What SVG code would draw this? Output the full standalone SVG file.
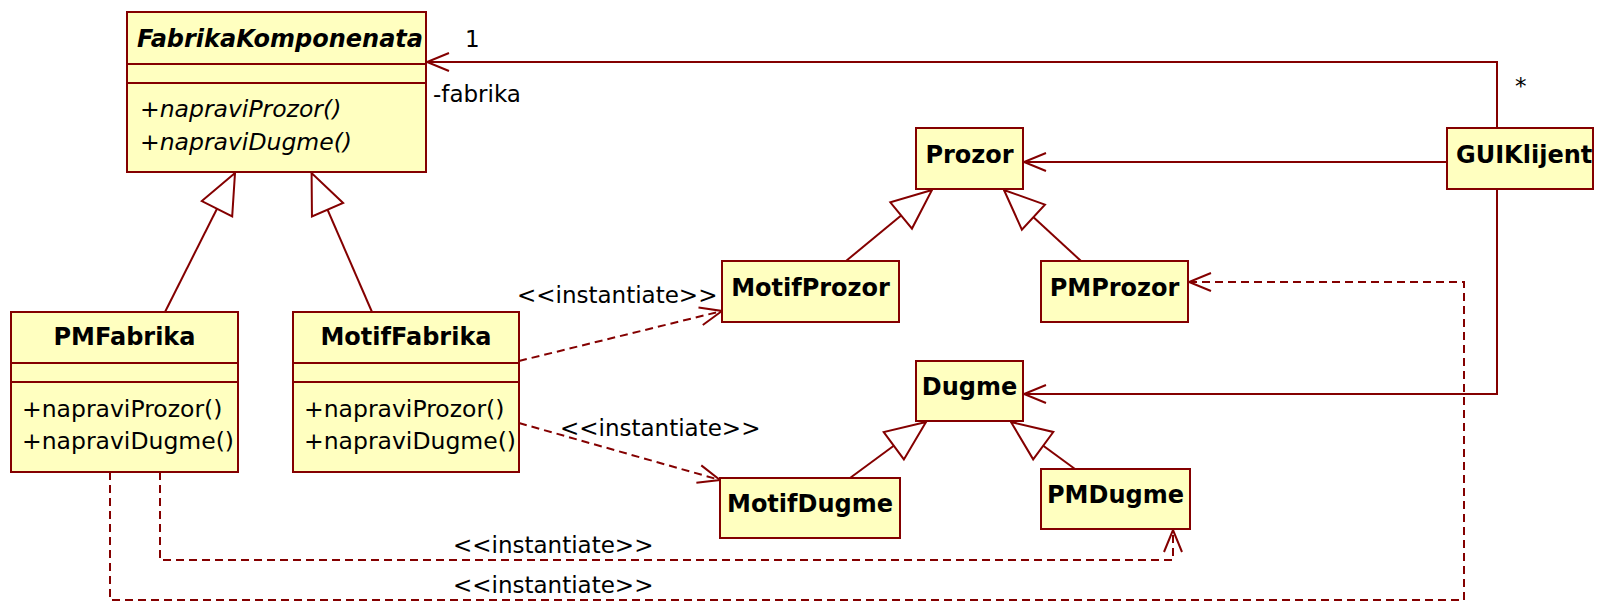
<svg xmlns="http://www.w3.org/2000/svg" width="1605" height="602" viewBox="0 0 1605 602">
<style>
.box{fill:#FFFFC0;stroke:#840000;stroke-width:2}
.sep{stroke:#840000;stroke-width:2}
.t{font-family:"DejaVu Sans",Verdana,sans-serif;font-size:23px;fill:#000}
.m{font-size:23.5px}
.b{font-weight:bold;font-size:24px}
.i{font-style:italic}
.c{text-anchor:middle}
.ln{fill:none;stroke:#840000;stroke-width:2}
.dash{stroke-dasharray:8,5}
</style>
<defs>
<marker id="open" viewBox="-25 -12 27 24" refX="0" refY="0" markerWidth="27" markerHeight="24" markerUnits="userSpaceOnUse" orient="auto">
<path d="M-22,-9 L0,0 L-22,9" fill="none" stroke="#840000" stroke-width="2"/>
</marker>
<marker id="gen" viewBox="-42 -19 44 38" refX="0" refY="0" markerWidth="44" markerHeight="38" markerUnits="userSpaceOnUse" orient="auto">
<path d="M0,0 L-40,-17 L-40,17 Z" fill="#fff" stroke="#840000" stroke-width="2"/>
</marker>
</defs>
<rect width="1605" height="602" fill="#fff"/>

<g id="connectors">
<path class="ln" d="M165,312 L235,173" marker-end="url(#gen)"/>
<path class="ln" d="M372,312 L311.6,173" marker-end="url(#gen)"/>
<path class="ln" d="M846,261 L932,190" marker-end="url(#gen)"/>
<path class="ln" d="M1081,261 L1004,190" marker-end="url(#gen)"/>
<path class="ln" d="M850,478 L926,422" marker-end="url(#gen)"/>
<path class="ln" d="M1075,469 L1011,422" marker-end="url(#gen)"/>
<path class="ln" d="M1497,128 V62 H427" marker-end="url(#open)"/>
<path class="ln" d="M1447,162 H1024" marker-end="url(#open)"/>
<path class="ln" d="M1497,189 V394 H1024" marker-end="url(#open)"/>
<path class="ln dash" d="M519,361 L722,311" marker-end="url(#open)"/>
<path class="ln dash" d="M519,423 L720,480" marker-end="url(#open)"/>
<path class="ln dash" d="M160,472 V560 H1173 V530" marker-end="url(#open)"/>
<path class="ln dash" d="M110,472 V600 H1464 V282 H1189" marker-end="url(#open)"/>
<text class="t" x="465" y="47">1</text>
<text class="t" x="433" y="102">-fabrika</text>
<text class="t" x="1515" y="94">*</text>
<text class="t" x="517" y="303">&lt;&lt;instantiate&gt;&gt;</text>
<text class="t" x="560" y="436">&lt;&lt;instantiate&gt;&gt;</text>
<text class="t" x="453" y="553">&lt;&lt;instantiate&gt;&gt;</text>
<text class="t" x="453" y="593">&lt;&lt;instantiate&gt;&gt;</text>
</g>

<g id="FabrikaKomponenata">
<rect class="box" x="127" y="12" width="299" height="160"/>
<line class="sep" x1="127" y1="64" x2="426" y2="64"/>
<line class="sep" x1="127" y1="83" x2="426" y2="83"/>
<text class="t b i" x="137" y="47">FabrikaKomponenata</text>
<text class="t m i" x="140" y="117">+napraviProzor()</text>
<text class="t m i" x="140" y="150">+napraviDugme()</text>
</g>

<g id="PMFabrika">
<rect class="box" x="11" y="312" width="227" height="160"/>
<line class="sep" x1="11" y1="363" x2="238" y2="363"/>
<line class="sep" x1="11" y1="382" x2="238" y2="382"/>
<text class="t b c" x="124.5" y="345">PMFabrika</text>
<text class="t m" x="22" y="417">+napraviProzor()</text>
<text class="t m" x="22" y="449">+napraviDugme()</text>
</g>

<g id="MotifFabrika">
<rect class="box" x="293" y="312" width="226" height="160"/>
<line class="sep" x1="293" y1="363" x2="519" y2="363"/>
<line class="sep" x1="293" y1="382" x2="519" y2="382"/>
<text class="t b c" x="406" y="345">MotifFabrika</text>
<text class="t m" x="304" y="417">+napraviProzor()</text>
<text class="t m" x="304" y="449">+napraviDugme()</text>
</g>

<g id="Prozor">
<rect class="box" x="916" y="128" width="107" height="61"/>
<text class="t b c" x="969.5" y="163">Prozor</text>
</g>

<g id="GUIKlijent">
<rect class="box" x="1447" y="128" width="146" height="61"/>
<text class="t b" x="1456" y="163">GUIKlijent</text>
</g>

<g id="MotifProzor">
<rect class="box" x="722" y="261" width="177" height="61"/>
<text class="t b c" x="810.5" y="296">MotifProzor</text>
</g>

<g id="PMProzor">
<rect class="box" x="1041" y="261" width="147" height="61"/>
<text class="t b c" x="1114.5" y="296">PMProzor</text>
</g>

<g id="Dugme">
<rect class="box" x="916" y="361" width="107" height="60"/>
<text class="t b c" x="969.5" y="395">Dugme</text>
</g>

<g id="MotifDugme">
<rect class="box" x="720" y="478" width="180" height="60"/>
<text class="t b c" x="810" y="512">MotifDugme</text>
</g>

<g id="PMDugme">
<rect class="box" x="1041" y="469" width="149" height="60"/>
<text class="t b c" x="1115.5" y="503">PMDugme</text>
</g>
</svg>
